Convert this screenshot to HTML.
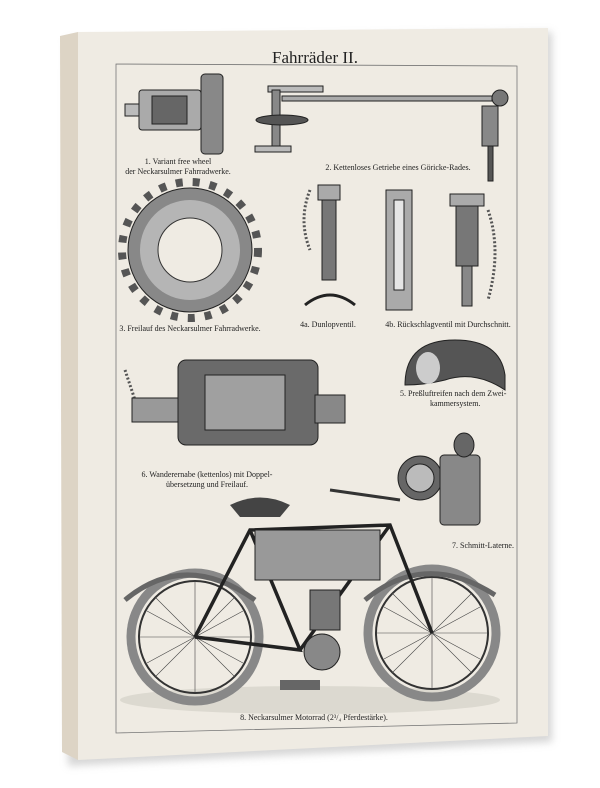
<!DOCTYPE html>
<html><head><meta charset="utf-8"><style>
html,body{margin:0;padding:0;background:#fff;width:600px;height:788px;overflow:hidden}
svg{display:block}
text{font-family:"Liberation Serif",serif;fill:#222}
</style></head><body>
<svg width="600" height="788" viewBox="0 0 600 788">
<defs>
<filter id="sh" x="-10%" y="-10%" width="130%" height="130%"><feGaussianBlur stdDeviation="4"/></filter>
</defs>
<polygon points="66,40 552,32 552,742 68,766" fill="#bbb" filter="url(#sh)" opacity="0.6"/>
<polygon points="60,36 78,32 78,760 62,752" fill="#ddd4c5"/>
<polygon points="78,32 548,28 548,736 78,760" fill="#efebe3"/>
<polygon points="116,64 517,66 517,723 116,733" fill="none" stroke="#777" stroke-width="0.8"/>
<text x="315" y="63" font-size="17" text-anchor="middle">Fahrräder II.</text>

<!-- 1 free wheel -->
<g stroke="#222" stroke-width="1">
<rect x="125" y="104" width="14" height="12" fill="#bbb"/>
<rect x="139" y="90" width="62" height="40" rx="3" fill="#aaa"/>
<rect x="152" y="96" width="35" height="28" fill="#666"/>
<rect x="201" y="74" width="22" height="80" rx="4" fill="#888"/>
</g>
<text x="178" y="164" font-size="8" text-anchor="middle">1. Variant free wheel</text>
<text x="178" y="174" font-size="8" text-anchor="middle">der Neckarsulmer Fahrradwerke.</text>

<!-- 2 -->
<g stroke="#222">
<rect x="268" y="86" width="55" height="6" fill="#bbb"/>
<rect x="272" y="90" width="8" height="60" fill="#888"/>
<ellipse cx="282" cy="120" rx="26" ry="5" fill="#555"/>
<rect x="282" y="96" width="210" height="5" fill="#aaa"/>
<rect x="255" y="146" width="36" height="6" fill="#bbb"/>
<circle cx="500" cy="98" r="8" fill="#777"/>
<rect x="482" y="106" width="16" height="40" fill="#888"/>
<rect x="488" y="146" width="5" height="35" fill="#555"/>
</g>
<text x="398" y="170" font-size="8" text-anchor="middle">2. Kettenloses Getriebe eines Göricke-Rades.</text>

<!-- 3 sprocket -->
<g>
<circle cx="190" cy="250" r="68" fill="none" stroke="#555" stroke-width="8" stroke-dasharray="7 10"/>
<circle cx="190" cy="250" r="62" fill="#888" stroke="#222"/>
<circle cx="190" cy="250" r="50" fill="#b5b5b5"/>
<circle cx="190" cy="250" r="32" fill="#efebe3" stroke="#333"/>
</g>
<text x="190" y="331" font-size="8" text-anchor="middle">3. Freilauf des Neckarsulmer Fahrradwerke.</text>

<!-- 4a 4b -->
<g stroke="#222">
<path d="M310 190 q-12 30 0 60" fill="none" stroke="#555" stroke-width="3" stroke-dasharray="2 2"/>
<rect x="318" y="185" width="22" height="15" fill="#aaa"/>
<rect x="322" y="200" width="14" height="80" fill="#777"/>
<path d="M305 305 q25 -20 50 0" fill="none" stroke="#222" stroke-width="3"/>
<rect x="386" y="190" width="26" height="120" fill="#aaa"/>
<rect x="394" y="200" width="10" height="90" fill="#e5e5e5"/>
<rect x="450" y="194" width="34" height="12" fill="#aaa"/>
<rect x="456" y="206" width="22" height="60" fill="#777"/>
<rect x="462" y="266" width="10" height="40" fill="#888"/>
<path d="M488 210 q14 40 0 90" fill="none" stroke="#555" stroke-width="3" stroke-dasharray="2 2"/>
</g>
<text x="328" y="327" font-size="8" text-anchor="middle">4a. Dunlopventil.</text>
<text x="448" y="327" font-size="8" text-anchor="middle">4b. Rückschlagventil mit Durchschnitt.</text>

<!-- 5 tire -->
<path d="M405 385 q0 -45 50 -45 q45 0 50 35 l0 15 q-30 -20 -60 -10 q-20 5 -40 5z" fill="#555" stroke="#222"/>
<ellipse cx="428" cy="368" rx="12" ry="16" fill="#ccc"/>
<text x="400" y="396" font-size="8">5. Preßluftreifen nach dem Zwei-</text>
<text x="430" y="406" font-size="8">kammersystem.</text>

<!-- 6 hub -->
<g stroke="#222">
<path d="M125 370 l10 30" stroke="#555" stroke-width="3" stroke-dasharray="2 2"/>
<rect x="132" y="398" width="60" height="24" fill="#999"/>
<rect x="178" y="360" width="140" height="85" rx="8" fill="#6a6a6a"/>
<rect x="205" y="375" width="80" height="55" fill="#a0a0a0"/>
<rect x="315" y="395" width="30" height="28" fill="#888"/>
</g>
<text x="207" y="477" font-size="8" text-anchor="middle">6. Wanderernabe (kettenlos) mit Doppel-</text>
<text x="207" y="487" font-size="8" text-anchor="middle">übersetzung und Freilauf.</text>

<!-- 7 lantern -->
<g stroke="#222">
<circle cx="420" cy="478" r="22" fill="#666"/>
<circle cx="420" cy="478" r="14" fill="#bbb"/>
<rect x="440" y="455" width="40" height="70" rx="4" fill="#888"/>
<ellipse cx="464" cy="445" rx="10" ry="12" fill="#666"/>
</g>
<text x="483" y="548" font-size="8" text-anchor="middle">7. Schmitt-Laterne.</text>

<!-- 8 motorcycle -->
<ellipse cx="310" cy="700" rx="190" ry="14" fill="#dcd9d0"/>
<g fill="none" stroke="#333">
<circle cx="195" cy="637" r="64" stroke-width="9" stroke="#888"/>
<circle cx="195" cy="637" r="56" stroke-width="2"/>
<circle cx="432" cy="633" r="64" stroke-width="9" stroke="#888"/>
<circle cx="432" cy="633" r="56" stroke-width="2"/>
<g stroke-width="0.6" stroke="#444">
<path d="M139 637h112M195 581v112M155 597l80 80M235 597l-80 80M376 633h112M432 577v112M392 593l80 80M472 593l-80 80M147 611l96 52M147 663l96 -52M384 607l96 52M384 659l96 -52"/>
</g>
<path d="M125 600 q60 -50 130 0" stroke-width="5" stroke="#666"/>
<path d="M365 600 q60 -50 130 -5" stroke-width="5" stroke="#666"/>
<path d="M195 637 L250 530 L390 525 L432 633 M250 530 L300 650 L195 637 M300 650 L390 525" stroke-width="3.5" stroke="#222"/>
<path d="M400 500 L330 490" stroke-width="3"/>
</g>
<rect x="255" y="530" width="125" height="50" fill="#999" stroke="#222"/>
<path d="M230 505 q30 -15 60 0 l-10 12 h-40z" fill="#444"/>
<rect x="310" y="590" width="30" height="40" fill="#777" stroke="#222"/>
<circle cx="322" cy="652" r="18" fill="#888" stroke="#222"/>
<rect x="280" y="680" width="40" height="10" fill="#666"/>
<text x="314" y="720" font-size="8" text-anchor="middle">8. Neckarsulmer Motorrad (2³/₄ Pferdestärke).</text>
</svg>
</body></html>
